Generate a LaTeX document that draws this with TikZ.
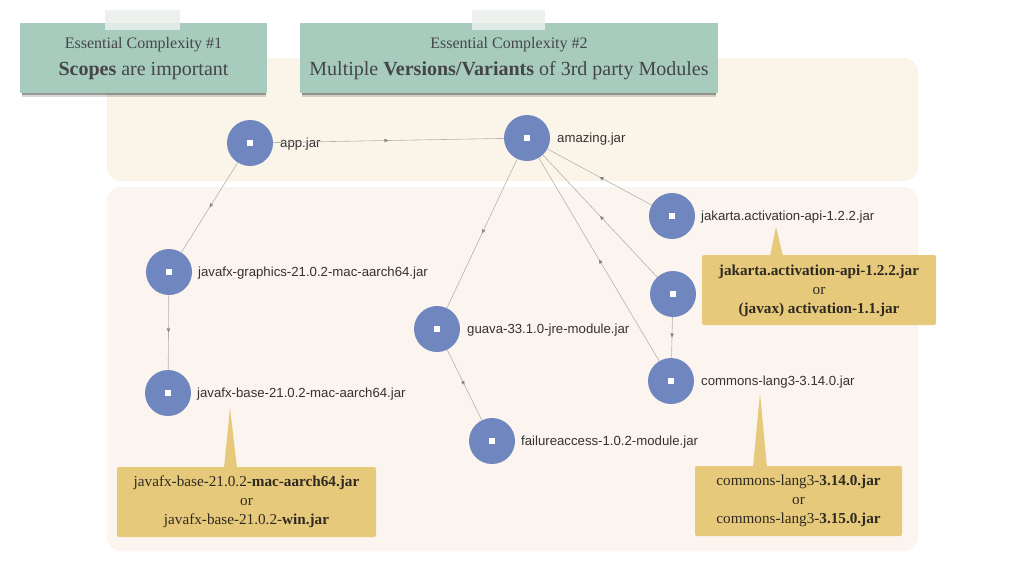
\documentclass[tikz,border=0pt]{standalone}
\usepackage{fontspec}
\setmainfont{Liberation Serif}
\setsansfont{Liberation Sans}
\usetikzlibrary{arrows.meta,decorations.markings}
\definecolor{topband}{HTML}{FAF4E9}
\definecolor{botband}{HTML}{FCF4EF}
\definecolor{titlebox}{HTML}{A7CCBE}
\definecolor{titletext}{HTML}{454545}
\definecolor{circ}{HTML}{6F87BE}
\definecolor{callout}{HTML}{E7C97B}
\definecolor{edgecol}{HTML}{B8B2AC}
\definecolor{arrowcol}{HTML}{8A8580}
\definecolor{lbltext}{HTML}{333333}
\definecolor{calltext}{HTML}{2E2A22}
\definecolor{tapecol}{HTML}{E9EFEC}
\begin{document}
\begin{tikzpicture}[x=1pt,y=-1pt,
  dep/.style={circle, fill=circ, minimum size=46pt, inner sep=0pt,
    path picture={\fill[white] ([xshift=-3pt,yshift=-3pt]path picture bounding box.center) rectangle ([xshift=3pt,yshift=3pt]path picture bounding box.center);}},
  lbl/.style={anchor=west, inner sep=0pt, text=lbltext, font=\sffamily\fontsize{13.2}{15}\selectfont},
  edgeline/.style={draw=edgecol, line width=0.6pt, postaction={decorate},
    decoration={markings, mark=at position 0.5 with {\arrow[arrowcol]{Triangle[length=4pt,width=3.5pt]}}}},
  calloutbox/.style={fill=callout, rounded corners=2pt},
  callouttext/.style={align=center, text=calltext, inner sep=0pt, font=\fontsize{15.2}{19}\selectfont},
  titlefill/.style={fill=titlebox},
  tape/.style={fill=tapecol, opacity=0.85},
  titlesmall/.style={text=titletext, inner sep=0pt, font=\fontsize{16}{18}\selectfont},
  titlebig/.style={text=titletext, inner sep=0pt, font=\fontsize{20}{22}\selectfont}
]
\useasboundingbox (0,0) rectangle (1024,576);
\fill[white] (0,0) rectangle (1024,576);

% bands
\fill[topband, rounded corners=14pt] (107,58) rectangle (918,181);
\fill[botband, rounded corners=14pt] (107,187) rectangle (918,551);

% title boxes with shadows
\fill[black, opacity=0.15] (22,91) rectangle (266,96.5);
\fill[black, opacity=0.3] (22,92) rectangle (266,95);
\fill[titlefill] (20,23) rectangle (267,93);
\fill[tape] (105,10) rectangle (180,30);
\node[titlesmall] (t1a) at (143.5,45) {Essential Complexity \#1};
\node[titlebig] (t1b) at (143.5,71) {\textbf{Scopes} are important};

\fill[black, opacity=0.15] (302,91) rectangle (716,96.5);
\fill[black, opacity=0.3] (302,92) rectangle (716,95);
\fill[titlefill] (300,23) rectangle (718,93);
\fill[tape] (472,10) rectangle (545,30);
\node[titlesmall] (t2a) at (509,45) {Essential Complexity \#2};
\node[titlebig] (t2b) at (509,71) {Multiple \textbf{Versions/Variants} of 3rd party Modules};

% dependency nodes
\node[dep] (app) at (250,143) {};
\node[dep] (amazing) at (527,138) {};
\node[dep] (gfx) at (169,272) {};
\node[dep] (base) at (168,393) {};
\node[dep] (guava) at (437,329) {};
\node[dep] (fail) at (492,441) {};
\node[dep] (jak) at (672,216) {};
\node[dep] (act) at (673,294) {};
\node[dep] (lang) at (671,381) {};

% labels
\node[lbl] (appL) at (280,144) {app.jar};
\node[lbl] (amazingL) at (557,139) {amazing.jar};
\node[lbl] (gfxL) at (198,273) {javafx-graphics-21.0.2-mac-aarch64.jar};
\node[lbl] (baseL) at (197,394) {javafx-base-21.0.2-mac-aarch64.jar};
\node[lbl] (guavaL) at (467,330) {guava-33.1.0-jre-module.jar};
\node[lbl] (failL) at (521,442) {failureaccess-1.0.2-module.jar};
\node[lbl] (jakL) at (701,217) {jakarta.activation-api-1.2.2.jar};
\node[lbl] (langL) at (701,382) {commons-lang3-3.14.0.jar};

% edges
\draw[edgeline] (app) -- (amazing);
\draw[edgeline] (app) -- (gfx);
\draw[edgeline] (gfx) -- (base);
\draw[edgeline] (amazing) -- (guava);
\draw[edgeline] (guava) -- (fail);
\draw[edgeline] (jak) -- (amazing);
\draw[edgeline] (act) -- (amazing);
\draw[edgeline] (lang) -- (amazing);
\draw[edgeline] (act) -- (lang);

% callouts
\coordinate (c1a) at (770,256);
\coordinate (c1t) at (776,227);
\coordinate (c1b) at (783,256);
\fill[callout] (c1a) -- (c1t) -- (c1b) -- cycle;
\fill[calloutbox] (702,255) rectangle (936,325);
\node[callouttext] (c1) at (819,291) {\textbf{jakarta.activation-api-1.2.2.jar}\\or\\\textbf{(javax) activation-1.1.jar}};

\coordinate (c2a) at (224,468);
\coordinate (c2t) at (230,408);
\coordinate (c2b) at (237,468);
\fill[callout] (c2a) -- (c2t) -- (c2b) -- cycle;
\fill[calloutbox] (117,467) rectangle (376,537);
\node[callouttext] (c2) at (246.5,502) {javafx-base-21.0.2-\textbf{mac-aarch64.jar}\\or\\javafx-base-21.0.2-\textbf{win.jar}};

\coordinate (c3a) at (753,467);
\coordinate (c3t) at (760,393);
\coordinate (c3b) at (767,467);
\fill[callout] (c3a) -- (c3t) -- (c3b) -- cycle;
\fill[calloutbox] (695,466) rectangle (902,536);
\node[callouttext] (c3) at (798.5,501) {commons-lang3-\textbf{3.14.0.jar}\\or\\commons-lang3-\textbf{3.15.0.jar}};
\end{tikzpicture}
\end{document}
